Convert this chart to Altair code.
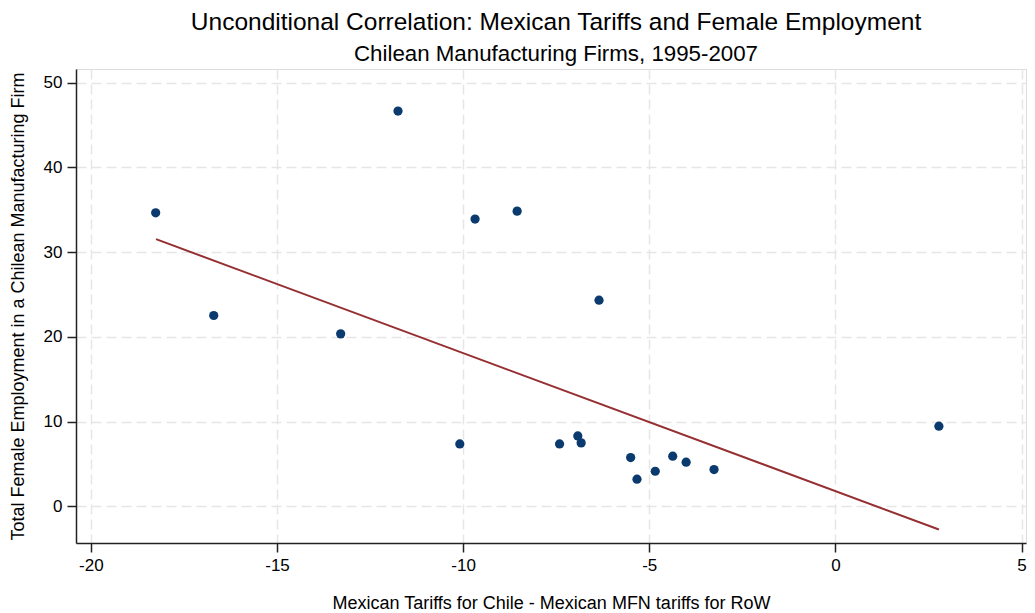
import altair as alt
import pandas as pd

# Scatter points
tariff_gap = [-18.26, -16.70, -13.29, -11.75, -10.09, -9.68, -8.55, -6.35,
              -7.41, -6.92, -6.83, -5.50, -5.33, -4.84, -4.37, -4.01, -3.26, 2.78]
female_emp = [34.64, 22.52, 20.35, 46.65, 7.36, 33.90, 34.84, 24.33,
              7.36, 8.30, 7.48, 5.75, 3.19, 4.13, 5.91, 5.20, 4.33, 9.45]

# Fitted line end points
fit_x = [-18.25, 2.78]
fit_y = [31.53, -2.75]

x_ticks = [-20, -15, -10, -5, 0, 5]
y_ticks = [0, 10, 20, 30, 40, 50]

pts = pd.DataFrame({"x": tariff_gap, "y": female_emp})
fit = pd.DataFrame({"x": fit_x, "y": fit_y})

FONT = "Liberation Sans"

xscale = alt.Scale(domain=[-20.40, 5.12], nice=False, zero=False)
yscale = alt.Scale(domain=[-4.34, 51.62], nice=False, zero=False)

axis_common = dict(
    grid=True, gridColor="#e6e6e6", gridDash=[10, 5], gridWidth=1.5,
    domainColor="#222222", domainWidth=1.5,
    tickColor="#222222", tickWidth=1.5, tickSize=9,
    labelFont=FONT, labelFontSize=17, labelColor="#000000",
    labelExpr="'' + datum.value",
    titleFont=FONT, titleFontSize=18, titleColor="#000000", titleFontWeight="normal",
)

xenc = alt.X("x:Q", scale=xscale,
             axis=alt.Axis(values=x_ticks, labelPadding=5, titlePadding=21,
                           title="Mexican Tariffs for Chile - Mexican MFN tariffs for RoW",
                           **axis_common))
yenc = alt.Y("y:Q", scale=yscale,
             axis=alt.Axis(values=y_ticks, labelPadding=5, titlePadding=16,
                           title="Total Female Employment in a Chilean Manufacturing Firm",
                           **axis_common))

points = alt.Chart(pts).mark_circle(size=85, opacity=1, color="#0a3a6e").encode(x=xenc, y=yenc)
line = alt.Chart(fit).mark_line(color="#952f32", strokeWidth=2).encode(
    x=alt.X("x:Q", scale=xscale), y=alt.Y("y:Q", scale=yscale))

chart = alt.layer(points, line).properties(
    width=950, height=474,
    title=alt.TitleParams(
        text="Unconditional Correlation: Mexican Tariffs and Female Employment",
        subtitle="Chilean Manufacturing Firms, 1995-2007",
        font=FONT, fontSize=24.5, fontWeight="normal", color="#000000",
        subtitleFont=FONT, subtitleFontSize=22.3, subtitleColor="#000000",
        subtitlePadding=7, anchor="middle", offset=3, dx=5,
    ),
    autosize=alt.AutoSizeParams(type="none"),
    padding={"left": 68, "top": 61, "right": 1, "bottom": 70},
).configure_view(strokeWidth=0).configure(background="white")

chart.save("out.html", embed_options={"renderer": "svg", "actions": False})
